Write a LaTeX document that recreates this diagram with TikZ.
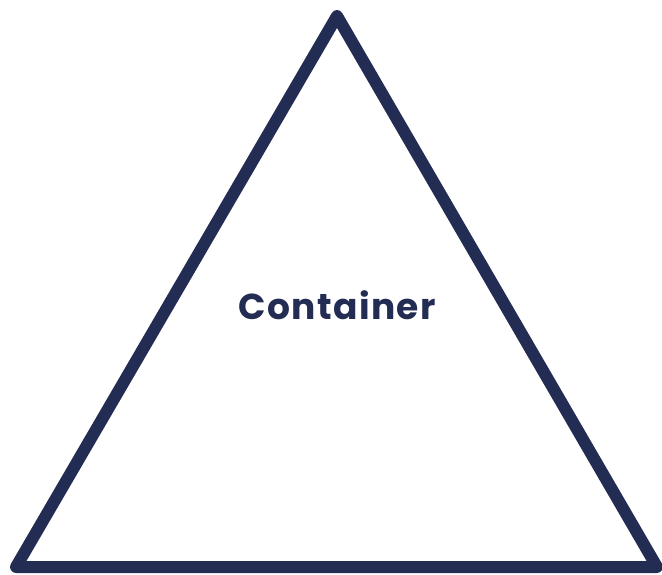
\documentclass[tikz,border=0pt]{standalone}
\usepackage{fontspec}
\setmainfont{Poppins}
\newfontfamily\labelfont[LetterSpace=4]{Poppins}
\usepackage{xcolor}
\definecolor{navy}{RGB}{35,44,82}

\begin{document}
\begin{tikzpicture}[x=1pt,y=-1pt,
		edge/.style={draw=navy, line width=12pt, line join=round, line cap=round},
		label/.style={text=navy, font=\labelfont\fontsize{36}{42}\selectfont\bfseries}]
			\useasboundingbox (0,0) rectangle (662,574);
			
			\coordinate (top) at (337,16);
			\coordinate (bl) at (16,567);
			\coordinate (br) at (657,567);
			
			\node[label] (c) at (337,305) {Container};
			
			\draw[edge] (top) -- (br) -- (bl) -- cycle;
		\end{tikzpicture}
\end{document}
